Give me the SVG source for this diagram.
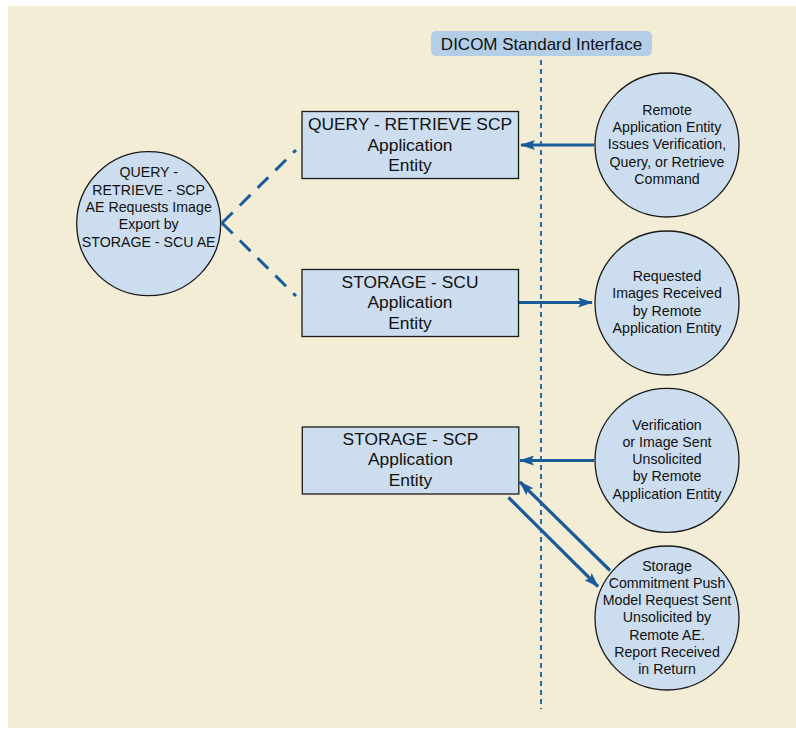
<svg xmlns="http://www.w3.org/2000/svg" width="796" height="729" viewBox="0 0 796 729">
<style>
.bg{fill:#F3EDD6}
.box{fill:#CBDDEF;stroke:#1A1A1A;stroke-width:1.3}
.circ{fill:#CBDDEF;stroke:#1A1A1A;stroke-width:1.3}
.bt{font-family:"Liberation Sans",Arial,sans-serif;font-size:17.4px;fill:#111;text-anchor:middle}
.ct{font-family:"Liberation Sans",Arial,sans-serif;font-size:14.2px;fill:#111;text-anchor:middle}
.lt{font-family:"Liberation Sans",Arial,sans-serif;font-size:17px;fill:#111;text-anchor:middle}
.conn{stroke:#1A5C99;stroke-width:3.2;fill:none}
.dash{stroke:#1A5C99;stroke-width:3;fill:none;stroke-dasharray:15 10}
.dot{stroke:#2E6EA6;stroke-width:2;fill:none;stroke-dasharray:5 4}
</style>
<defs>
<marker id="ah" viewBox="0 0 15 10" refX="14" refY="5" markerWidth="15" markerHeight="10" markerUnits="userSpaceOnUse" orient="auto">
<path d="M0,0 L15,5 L0,10 L3,5 Z" fill="#1A5C99"/>
</marker>
</defs>
<rect class="bg" x="8" y="6" width="788" height="722"/>

<g id="interface-label">
<rect x="431" y="31" width="221" height="25" rx="5" fill="#B4CEE8"/>
<text class="lt" x="541.5" y="49.5">DICOM Standard Interface</text>
</g>

<g id="connectors">
<line class="dot" x1="541" y1="60" x2="541" y2="709"/>
<line class="dash" x1="222" y1="223" x2="296" y2="150"/>
<line class="dash" x1="222" y1="223" x2="296" y2="296"/>
<line class="conn" x1="594" y1="145" x2="521" y2="145" marker-end="url(#ah)"/>
<line class="conn" x1="518" y1="302.5" x2="592" y2="302.5" marker-end="url(#ah)"/>
<line class="conn" x1="594" y1="460.5" x2="520" y2="460.5" marker-end="url(#ah)"/>
<line class="conn" x1="610" y1="570.5" x2="520" y2="482" marker-end="url(#ah)"/>
<line class="conn" x1="508.5" y1="497.5" x2="598" y2="586.5" marker-end="url(#ah)"/>
</g>

<g id="left-circle">
<circle class="circ" cx="148.7" cy="223.7" r="72"/>
<text class="ct" x="148.7" y="177.3">QUERY -</text>
<text class="ct" x="148.7" y="194.6">RETRIEVE - SCP</text>
<text class="ct" x="148.7" y="211.9">AE Requests Image</text>
<text class="ct" x="148.7" y="229.2">Export by</text>
<text class="ct" x="148.7" y="246.5">STORAGE - SCU AE</text>
</g>

<g id="query-retrieve-scp">
<rect class="box" x="302" y="111.5" width="216.5" height="67"/>
<text class="bt" x="410" y="130">QUERY - RETRIEVE SCP</text>
<text class="bt" x="410" y="150.5">Application</text>
<text class="bt" x="410" y="171">Entity</text>
</g>

<g id="storage-scu">
<rect class="box" x="302" y="269.5" width="216.5" height="67"/>
<text class="bt" x="410" y="287.7">STORAGE - SCU</text>
<text class="bt" x="410" y="308.2">Application</text>
<text class="bt" x="410" y="328.7">Entity</text>
</g>

<g id="storage-scp">
<rect class="box" x="302.3" y="427" width="216.5" height="67"/>
<text class="bt" x="410.5" y="444.5">STORAGE - SCP</text>
<text class="bt" x="410.5" y="465.2">Application</text>
<text class="bt" x="410.5" y="486">Entity</text>
</g>

<g id="remote-command">
<circle class="circ" cx="667" cy="145" r="72"/>
<text class="ct" x="667" y="115">Remote</text>
<text class="ct" x="667" y="132.2">Application Entity</text>
<text class="ct" x="667" y="149.4">Issues Verification,</text>
<text class="ct" x="667" y="166.6">Query, or Retrieve</text>
<text class="ct" x="667" y="183.8">Command</text>
</g>

<g id="images-received">
<circle class="circ" cx="667" cy="303" r="72"/>
<text class="ct" x="667" y="281">Requested</text>
<text class="ct" x="667" y="298.3">Images Received</text>
<text class="ct" x="667" y="315.6">by Remote</text>
<text class="ct" x="667" y="332.9">Application Entity</text>
</g>

<g id="verification-unsolicited">
<circle class="circ" cx="667" cy="460.3" r="72"/>
<text class="ct" x="667" y="429.5">Verification</text>
<text class="ct" x="667" y="446.8">or Image Sent</text>
<text class="ct" x="667" y="464.1">Unsolicited</text>
<text class="ct" x="667" y="481.4">by Remote</text>
<text class="ct" x="667" y="498.7">Application Entity</text>
</g>

<g id="storage-commitment">
<circle class="circ" cx="667" cy="618" r="72"/>
<text class="ct" x="667" y="570.7">Storage</text>
<text class="ct" x="667" y="587.9">Commitment Push</text>
<text class="ct" x="667" y="605.1">Model Request Sent</text>
<text class="ct" x="667" y="622.3">Unsolicited by</text>
<text class="ct" x="667" y="639.5">Remote AE.</text>
<text class="ct" x="667" y="656.7">Report Received</text>
<text class="ct" x="667" y="673.9">in Return</text>
</g>
</svg>
